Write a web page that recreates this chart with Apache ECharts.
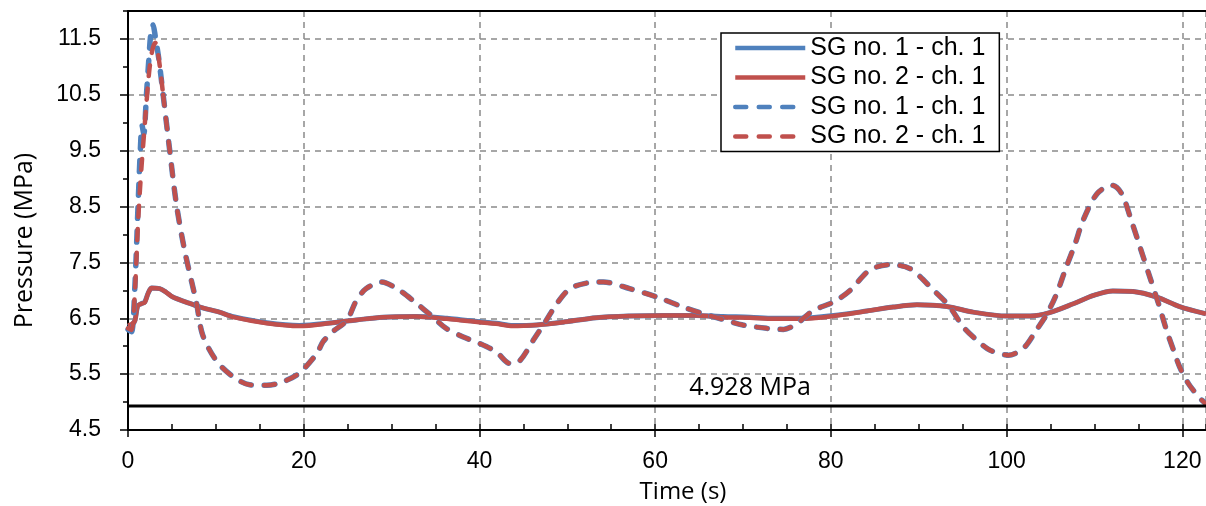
<!DOCTYPE html>
<html>
<head>
<meta charset="utf-8">
<script src="https://cdn.jsdelivr.net/npm/echarts@6/dist/echarts.min.js"></script>
<style>html,body{margin:0;padding:0;background:#fff}#c{width:1206px;height:506px}</style>
</head>
<body>
<div id="c"></div>
<script>
// ---- data ----
const legendLabels = ['SG no. 1 - ch. 1', 'SG no. 2 - ch. 1', 'SG no. 1 - ch. 1', 'SG no. 2 - ch. 1'];
const limitValue = 4.928;
const limitLabel = '4.928 MPa';
const xTitle = 'Time (s)';
const yTitle = 'Pressure (MPa)';

const solidTime = [0,0.5,0.8,1.1,1.5,1.9,2.3,2.7,3.6,4.3,5.1,6.6,8.2,10.4,12,15.8,19.5,23.3,26,29,32.8,36.3,38.1,41.9,43.8,46.5,49.5,53.3,57.1,61,64.7,67.7,70.8,73.5,76.5,80.3,84.1,87.1,89.8,93.2,96.2,100,102.7,104.9,107.6,109.9,112.1,114.4,117.1,119.7,122.7];
const solidSG1 = [6.35,6.39,6.47,6.72,6.76,6.79,6.95,7.04,7.03,6.97,6.88,6.79,6.70,6.61,6.53,6.42,6.37,6.42,6.47,6.52,6.53,6.50,6.47,6.41,6.37,6.38,6.43,6.51,6.54,6.55,6.55,6.53,6.52,6.50,6.50,6.55,6.63,6.70,6.74,6.71,6.61,6.54,6.54,6.60,6.76,6.91,6.99,6.98,6.88,6.71,6.58];
const solidSG2 = [6.37,6.40,6.46,6.72,6.76,6.78,6.95,7.04,7.03,6.97,6.88,6.79,6.70,6.61,6.52,6.41,6.36,6.42,6.47,6.52,6.53,6.49,6.46,6.40,6.36,6.38,6.43,6.51,6.54,6.55,6.55,6.52,6.51,6.49,6.49,6.54,6.63,6.70,6.74,6.71,6.61,6.54,6.54,6.60,6.76,6.91,6.99,6.98,6.88,6.71,6.58];

const dashTime = [0,0.4,0.76,1.14,1.4,1.6,1.8,2.1,2.4,2.6,2.85,3.1,3.5,4.0,4.75,5.5,6.45,7.8,8.5,10.1,12,13.85,15.8,17.6,19.5,21.5,22.2,23.3,24.9,26,27.1,28.85,30.9,32.8,34.5,36.2,38.1,40,41.9,43.5,44.6,46.1,47.6,48.8,50.3,52.2,54.1,57.1,60.2,63.2,65.5,67.7,70,72.7,74.6,76.1,78,80.3,82.2,84.4,86.7,89,91.7,93.4,95.1,96.6,98.1,100.2,101.9,103.4,104.6,105.7,106.8,107.8,108.7,110.3,112,113.1,114.2,115.2,116.3,117.3,118.2,119,119.7,120.7,122,122.6];
const dashSG1 = [6.30,6.26,7.0,8.5,9.5,9.95,9.8,10.5,11.2,11.6,11.75,11.55,11.15,10.5,9.5,8.55,7.71,6.77,6.2,5.73,5.45,5.31,5.30,5.36,5.52,5.87,6.08,6.26,6.46,6.82,7.03,7.15,7.0,6.77,6.55,6.32,6.17,6.05,5.9,5.69,5.74,6.1,6.46,6.76,7.03,7.13,7.15,7.03,6.88,6.70,6.58,6.48,6.38,6.32,6.30,6.40,6.64,6.79,7.0,7.36,7.46,7.39,7.0,6.73,6.34,6.11,5.93,5.84,5.96,6.29,6.58,6.94,7.42,7.83,8.25,8.73,8.88,8.73,8.25,7.77,7.24,6.76,6.29,5.93,5.63,5.33,5.07,4.98];
const dashSG2 = [6.32,6.29,6.9,8.2,8.9,9.35,9.75,10.35,10.9,11.15,11.35,11.43,11.15,10.5,9.5,8.55,7.71,6.77,6.2,5.73,5.45,5.31,5.30,5.36,5.52,5.87,6.08,6.26,6.46,6.82,7.03,7.15,7.0,6.77,6.55,6.32,6.17,6.05,5.9,5.69,5.74,6.1,6.46,6.76,7.03,7.13,7.15,7.03,6.88,6.70,6.58,6.48,6.38,6.32,6.30,6.40,6.64,6.79,7.0,7.36,7.46,7.39,7.0,6.73,6.34,6.11,5.93,5.84,5.96,6.29,6.58,6.94,7.42,7.83,8.25,8.73,8.88,8.73,8.25,7.77,7.24,6.76,6.29,5.93,5.63,5.33,5.07,4.98];

const X_MIN = 0, X_MAX = 122.7, Y_MIN = 4.5, Y_MAX = 12;

// ---- chart ----
const zip = (t, v) => t.map((x, i) => [x, v[i]]);
const SPLIT = 13; // dashed curves split after the first peak so that both dash patterns stay in phase
const BLUE = '#4F81BD', RED = '#C0504D';
const chart = echarts.init(document.getElementById('c'), null, {renderer: 'canvas'});

const gridLine = {show: true, lineStyle: {color: '#8a8a8a', width: 1.5, type: [6, 5]}};
const tickFont = {fontFamily: 'Liberation Sans', fontSize: 23, color: '#000'};
const DASH = [11, 12.5];

function dashSeries(name, t, v, color, width, z) {
  const a = zip(t.slice(0, SPLIT + 1), v.slice(0, SPLIT + 1));
  const b = zip(t.slice(SPLIT), v.slice(SPLIT));
  const base = {name, type: 'line', symbol: 'none', smooth: 0.3, color,
    lineStyle: {color, width, type: DASH, cap: 'round'}, z};
  return [Object.assign({data: a}, base), Object.assign({data: b}, base)];
}

const option = {
  animation: false,
  backgroundColor: '#fff',
  grid: {left: 128, right: 0, top: 11, bottom: 76, containLabel: false},
  legend: {
    left: 721, top: 33, orient: 'vertical',
    data: ['s1', 's2', 's3', 's4'],
    formatter: n => legendLabels[['s1','s2','s3','s4'].indexOf(n)],
    itemWidth: 70, itemHeight: 14, itemGap: 3.5, itemTextGap: 7,
    padding: [2, 14, 2, 12],
    itemStyle: {opacity: 0},
    lineStyle: {width: 4.5},
    borderColor: '#000', borderWidth: 1.5, backgroundColor: '#fff',
    textStyle: {fontFamily: 'Liberation Sans', fontSize: 25, color: '#000', lineHeight: 26},
    selectedMode: false, z: 10
  },
  xAxis: [
    {
      type: 'value', min: X_MIN, max: X_MAX, interval: 20, position: 'bottom',
      axisLine: {show: true, onZero: false, lineStyle: {color: '#000', width: 2}},
      axisTick: {show: true, length: 7, inside: false, lineStyle: {color: '#000', width: 1.5}},
      axisLabel: Object.assign({margin: 20, showMaxLabel: false, formatter: v => (v % 20 === 0 ? String(v) : '')}, tickFont),
      splitLine: gridLine
    },
    {
      type: 'value', min: X_MIN, max: X_MAX, interval: 5, position: 'bottom', gridIndex: 0,
      axisLine: {show: false},
      axisTick: {show: true, length: 6, inside: true, lineStyle: {color: '#000', width: 1.5}},
      axisLabel: {show: false}, splitLine: {show: false}
    },
    {
      type: 'value', min: X_MIN, max: X_MAX, position: 'top',
      axisLine: {show: true, onZero: false, lineStyle: {color: '#000', width: 2}},
      axisTick: {show: false}, axisLabel: {show: false}, splitLine: {show: false}
    }
  ],
  yAxis: [
    {
      type: 'value', min: Y_MIN, max: Y_MAX, interval: 1, position: 'left',
      axisLine: {show: true, onZero: false, lineStyle: {color: '#000', width: 2}},
      axisTick: {show: true, length: 8, inside: false, lineStyle: {color: '#000', width: 1.5}},
      axisLabel: Object.assign({margin: 27, showMaxLabel: false, formatter: v => (Math.abs(v - Y_MAX) < 1e-9 ? '' : v.toFixed(1))}, tickFont),
      splitLine: gridLine
    },
    {
      type: 'value', min: Y_MIN, max: Y_MAX, interval: 0.5, position: 'left',
      axisLine: {show: false},
      axisTick: {show: true, length: 5, inside: false, lineStyle: {color: '#000', width: 1.5}},
      axisLabel: {show: false}, splitLine: {show: false}
    }
  ],
  series: [
    {name: 's1', type: 'line', data: zip(solidTime, solidSG1), symbol: 'none', smooth: 0.3,
     color: BLUE, lineStyle: {color: BLUE, width: 5}, z: 2},
    {name: 's2', type: 'line', data: zip(solidTime, solidSG2), symbol: 'none', smooth: 0.3,
     color: RED, lineStyle: {color: RED, width: 4.5}, z: 3},
    ...dashSeries('s3', dashTime, dashSG1, BLUE, 5.5, 4),
    ...dashSeries('s4', dashTime, dashSG2, RED, 4.5, 5),
    {name: 'limit', type: 'line', data: [[X_MIN, limitValue], [X_MAX, limitValue]], symbol: 'none',
     color: '#000', lineStyle: {color: '#000', width: 3}, z: 6}
  ]
};
chart.setOption(option);

const lp = chart.convertToPixel({xAxisIndex: 0, yAxisIndex: 0}, [70.8, limitValue]);
const origin = chart.convertToPixel({xAxisIndex: 0, yAxisIndex: 0}, [X_MIN, Y_MIN]);
const midY = chart.convertToPixel({xAxisIndex: 0, yAxisIndex: 0}, [X_MIN, (Y_MIN + Y_MAX) / 2]);
const midX = chart.convertToPixel({xAxisIndex: 0, yAxisIndex: 0}, [(X_MIN + X_MAX) / 2, Y_MIN]);
chart.setOption({
  graphic: [
    {type: 'text', x: lp[0], y: lp[1] - 18, style: {text: limitLabel, fontFamily: 'Open Sans', fontSize: 25, fill: '#000', align: 'center', verticalAlign: 'middle'}, z: 20},
    {type: 'text', x: midX[0] + 16, y: origin[1] + 62, style: {text: xTitle, fontFamily: 'Open Sans', fontSize: 24, fill: '#000', align: 'center', verticalAlign: 'middle'}, z: 20},
    {type: 'text', x: 25, y: midY[1] + 20, rotation: Math.PI / 2, style: {text: yTitle, fontFamily: 'Open Sans', fontSize: 25, fill: '#000', align: 'center', verticalAlign: 'middle'}, z: 20}
  ]
});
</script>
</body>
</html>
